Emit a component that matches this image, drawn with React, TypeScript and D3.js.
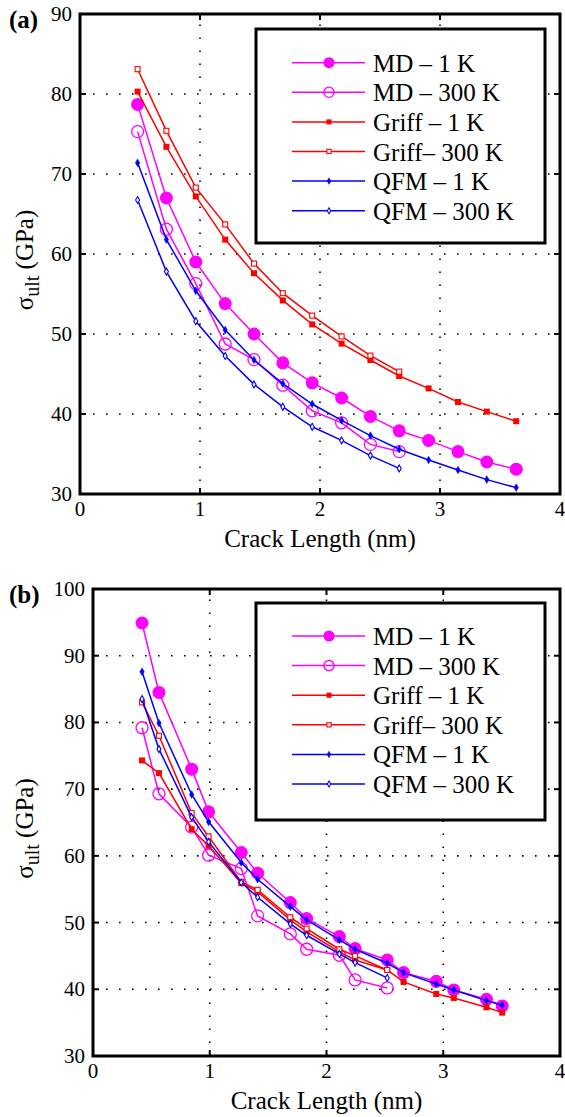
import React from "react";
import * as d3 from "d3";

// ---------- Panel (a) data ----------
const xA = [0.48, 0.72, 0.965, 1.21, 1.45, 1.69, 1.935, 2.18, 2.42, 2.66, 2.905, 3.15, 3.39, 3.635];
const aMD1 = [78.7, 67.0, 59.0, 53.8, 50.0, 46.4, 43.9, 42.0, 39.7, 37.9, 36.7, 35.3, 34.0, 33.1];
const aMD300 = [75.3, 63.1, 56.3, 48.75, 46.8, 43.6, 40.4, 38.9, 36.2, 35.3];
const aGriff1 = [80.3, 73.4, 67.2, 61.8, 57.6, 54.2, 51.2, 48.8, 46.75, 44.75, 43.2, 41.5, 40.3, 39.1];
const aGriff300 = [83.1, 75.4, 68.3, 63.7, 58.8, 55.1, 52.3, 49.7, 47.3, 45.3];
const aQFM1 = [71.4, 61.8, 55.4, 50.5, 46.75, 43.8, 41.25, 39.2, 37.3, 35.6, 34.25, 33.0, 31.8, 30.8];
const aQFM300 = [66.75, 57.8, 51.6, 47.25, 43.7, 40.9, 38.4, 36.7, 34.8, 33.2];

// ---------- Panel (b) data ----------
const xB = [0.42, 0.565, 0.845, 0.99, 1.27, 1.41, 1.69, 1.83, 2.11, 2.245, 2.52, 2.66, 2.94, 3.09, 3.37, 3.505];
const bMD1 = [94.9, 84.5, 73.0, 66.6, 60.5, 57.4, 53.0, 50.6, 47.9, 46.1, 44.4, 42.5, 41.2, 39.9, 38.5, 37.5];
const bMD300 = [79.2, 69.3, 64.3, 60.1, 58.1, 51.0, 48.3, 46.0, 45.1, 41.4, 40.2];
const bGriff1 = [74.3, 72.4, 64.0, 61.5, 55.9, 54.6, 50.4, 48.6, 45.6, 44.4, 42.9, 41.1, 39.3, 38.7, 37.3, 36.5];
const bGriff300 = [83.0, 78.0, 66.4, 62.9, 56.1, 54.9, 50.8, 49.1, 46.0, 45.0, 42.9];
const bQFM1 = [87.6, 79.9, 69.2, 65.1, 59.0, 56.5, 52.4, 50.4, 47.4, 46.0, 43.9, 42.5, 40.8, 39.9, 38.3, 37.6];
const bQFM300 = [83.5, 76.0, 65.8, 62.1, 56.0, 53.8, 49.8, 48.1, 45.3, 44.0, 41.7];

const xTicks = [0, 1, 2, 3, 4];
const yTicksA = [30, 40, 50, 60, 70, 80, 90];
const yTicksB = [30, 40, 50, 60, 70, 80, 90, 100];
const legendLabels = ["MD \u2013 1 K", "MD \u2013 300 K", "Griff \u2013 1 K", "Griff\u2013 300 K", "QFM \u2013 1 K", "QFM \u2013 300 K"];

type Marker = "circleFilled" | "circleOpen" | "squareFilled" | "squareOpen" | "diamondFilled" | "diamondOpen";
const styles: { color: string; marker: Marker }[] = [
  { color: "#ff00ff", marker: "circleFilled" },
  { color: "#ff00ff", marker: "circleOpen" },
  { color: "#ff0000", marker: "squareFilled" },
  { color: "#ff0000", marker: "squareOpen" },
  { color: "#0000ff", marker: "diamondFilled" },
  { color: "#0000ff", marker: "diamondOpen" },
];

const FONT = "'Liberation Serif', 'Times New Roman', serif";

function MarkerShape({ m, x, y, color, scale = 1 }: { m: Marker; x: number; y: number; color: string; scale?: number }) {
  if (m === "circleFilled") return <circle cx={x} cy={y} r={6.5 * scale} fill={color} />;
  if (m === "circleOpen") return <circle cx={x} cy={y} r={6 * scale} fill="none" stroke={color} strokeWidth={1.3} />;
  if (m === "squareFilled") {
    const s = 6 * scale;
    return <rect x={x - s / 2} y={y - s / 2} width={s} height={s} fill={color} />;
  }
  if (m === "squareOpen") {
    const s = 5 * scale;
    return <rect x={x - s / 2} y={y - s / 2} width={s} height={s} fill="white" stroke={color} strokeWidth={1.1} />;
  }
  const filled = m === "diamondFilled";
  const size = (filled ? 17 : 14) * scale * scale;
  const p = d3.symbol().type(d3.symbolDiamond).size(size)()!;
  return (
    <path
      d={p}
      transform={`translate(${x},${y})`}
      fill={filled ? color : "white"}
      stroke={color}
      strokeWidth={filled ? 0.5 : 1.1}
    />
  );
}

function Panel({
  label, left, right, top, bottom, yMax, yTicks, xs, series, legendTop, legendBottom, firstRow,
}: {
  label: string; left: number; right: number; top: number; bottom: number; yMax: number; yTicks: number[];
  xs: number[]; series: number[][]; legendTop: number; legendBottom: number; firstRow: number;
}) {
  const x = d3.scaleLinear().domain([0, 4]).range([left, right]);
  const y = d3.scaleLinear().domain([30, yMax]).range([bottom, top]);
  const line = d3.line<[number, number]>().x((d) => x(d[0])).y((d) => y(d[1]));
  const cy = (top + bottom) / 2 + 6;
  const cx = (left + right) / 2;
  return (
    <g>
      {/* grid */}
      {yTicks.filter((t) => t > 30 && t < yMax).map((t) => (
        <line key={"gy" + t} x1={left} x2={right} y1={y(t)} y2={y(t)} stroke="#000" strokeWidth={1.6} strokeDasharray="1.6 11.4" />
      ))}
      {xTicks.filter((t) => t > 0 && t < 4).map((t) => (
        <line key={"gx" + t} x1={x(t)} x2={x(t)} y1={bottom} y2={top} stroke="#000" strokeWidth={1.6} strokeDasharray="1.6 11.4" />
      ))}
      {/* series */}
      {series.map((vals, i) => {
        const pts: [number, number][] = vals.map((v, j) => [xs[j], v]);
        const st = styles[i];
        return (
          <g key={"s" + i}>
            <path d={line(pts)!} fill="none" stroke={st.color} strokeWidth={1.5} />
            {pts.map((p, j) => (
              <MarkerShape key={j} m={st.marker} x={x(p[0])} y={y(p[1])} color={st.color} />
            ))}
          </g>
        );
      })}
      {/* legend */}
      <rect x={256} y={legendTop} width={289} height={legendBottom - legendTop} fill="white" stroke="#000" strokeWidth={3} />
      {legendLabels.map((t, i) => {
        const ry = firstRow + i * 29.6;
        const st = styles[i];
        return (
          <g key={"l" + i}>
            <line x1={292} x2={365} y1={ry} y2={ry} stroke={st.color} strokeWidth={1.5} />
            <MarkerShape m={st.marker} x={329} y={ry} color={st.color} scale={0.85} />
            <text x={373} y={ry + 9} fontFamily={FONT} fontSize={25} fill="#000">{t}</text>
          </g>
        );
      })}
      {/* ticks */}
      {xTicks.map((t) => (
        <g key={"tx" + t}>
          <line x1={x(t)} x2={x(t)} y1={bottom} y2={bottom - 6} stroke="#000" strokeWidth={2} />
          <line x1={x(t)} x2={x(t)} y1={top} y2={top + 6} stroke="#000" strokeWidth={2} />
          <text x={x(t)} y={bottom + 22} textAnchor="middle" fontFamily={FONT} fontSize={21}>{t}</text>
        </g>
      ))}
      {yTicks.map((t) => (
        <g key={"ty" + t}>
          <line x1={left} x2={left + 6} y1={y(t)} y2={y(t)} stroke="#000" strokeWidth={2} />
          <line x1={right} x2={right - 6} y1={y(t)} y2={y(t)} stroke="#000" strokeWidth={2} />
          <text x={left - 8} y={y(t) + 7} textAnchor="end" fontFamily={FONT} fontSize={21}>{t}</text>
        </g>
      ))}
      {/* frame */}
      <rect x={left} y={top} width={right - left} height={bottom - top} fill="none" stroke="#000" strokeWidth={3} />
      {/* labels */}
      <text x={cx} y={bottom + 53} textAnchor="middle" fontFamily={FONT} fontSize={25}>Crack Length (nm)</text>
      <text transform={`translate(33,${cy}) rotate(-90)`} textAnchor="middle" fontFamily={FONT} fontSize={25}>
        σ<tspan fontSize={20} dy={6}>ult</tspan><tspan dy={-6}> (GPa)</tspan>
      </text>
      <text x={9} y={top + 14} fontFamily={FONT} fontSize={25} fontWeight="bold">{label}</text>
    </g>
  );
}

export default function App() {
  return (
    <svg width={565} height={1117} style={{ position: "absolute", left: 0, top: 0, background: "white" }}>
      <rect width={565} height={1117} fill="white" />
      <Panel
        label="(a)" left={80} right={560} top={14} bottom={494} yMax={90} yTicks={yTicksA}
        xs={xA} series={[aMD1, aMD300, aGriff1, aGriff300, aQFM1, aQFM300]}
        legendTop={29} legendBottom={243} firstRow={62.7}
      />
      <Panel
        label="(b)" left={93} right={560} top={589} bottom={1056} yMax={100} yTicks={yTicksB}
        xs={xB} series={[bMD1, bMD300, bGriff1, bGriff300, bQFM1, bQFM300]}
        legendTop={603} legendBottom={820} firstRow={636}
      />
    </svg>
  );
}
